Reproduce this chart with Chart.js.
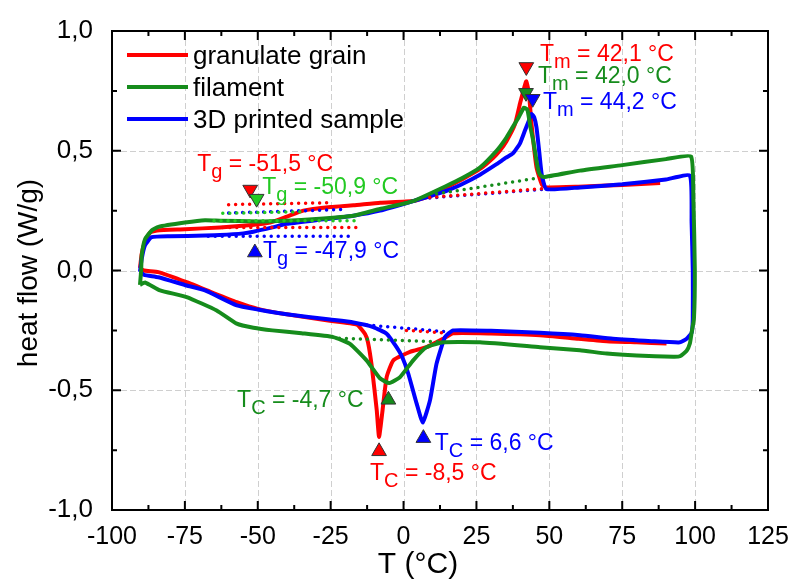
<!DOCTYPE html>
<html>
<head>
<meta charset="utf-8">
<script src="https://cdn.jsdelivr.net/npm/chart.js@4.4.1/dist/chart.umd.min.js"></script>
<style>
  html, body { margin: 0; padding: 0; background: #fff; }
  canvas { display: block; }
</style>
</head>
<body>
<canvas id="dsc" width="793" height="583"></canvas>
<script>
// DSC runs, [T (°C), heat flow (W/g)]
const granulateHeating = [
    [-90.4, 0.01], [-89.8, 0.07], [-88.7, 0.12], [-87, 0.158], [-84.5, 0.167], [-75, 0.172],
    [-63, 0.18], [-52, 0.19], [-45.8, 0.2], [-40, 0.225], [-34.4, 0.25], [-25, 0.265],
    [-17.2, 0.272], [-8, 0.283], [3.3, 0.29], [10, 0.315], [14.8, 0.347], [20, 0.38],
    [26.2, 0.424], [30.7, 0.47], [33, 0.5], [35.3, 0.54], [38.2, 0.61], [40, 0.7],
    [41.3, 0.76], [42.1, 0.79], [43, 0.74], [43.9, 0.61], [45.6, 0.43], [47.4, 0.36],
    [49, 0.347], [60, 0.35], [75, 0.357], [88, 0.365],
];
const granulateCooling = [
    [90.2, -0.305], [80, -0.3], [69.7, -0.295], [60, -0.285], [46.8, -0.27], [30, -0.263],
    [17, -0.262], [13.6, -0.285], [7.9, -0.32], [2.2, -0.34], [-3.5, -0.375], [-5.8, -0.445],
    [-7.2, -0.583], [-8.4, -0.695], [-9.2, -0.583], [-10.9, -0.4], [-12.2, -0.3], [-13.2, -0.265],
    [-16, -0.226], [-25.3, -0.21], [-40.1, -0.183], [-50, -0.16], [-57.2, -0.132], [-65, -0.095],
    [-74.4, -0.049], [-84.1, -0.007], [-89, 0.0], [-90.4, 0.01],
];
const filamentLoop = [
    [-90.4, -0.06], [-90, 0.0], [-89.8, 0.0625], [-88.7, 0.13], [-86.4, 0.167], [-84.1, 0.182],
    [-75, 0.2], [-68.1, 0.21], [-63, 0.208], [-50, 0.205], [-40.1, 0.208], [-30, 0.215],
    [-17.2, 0.229], [-8.1, 0.257], [3.3, 0.29], [14.8, 0.354], [20, 0.385], [26.2, 0.43],
    [31.9, 0.5], [35, 0.55], [37.5, 0.6], [39.5, 0.64], [41.3, 0.68], [42.5, 0.67],
    [43.5, 0.6], [44.5, 0.54], [46, 0.43], [46.8, 0.4], [48, 0.39], [60.5, 0.417],
    [75, 0.44], [90, 0.465], [98.6, 0.476], [99.4, 0.3], [99.9, 0.0], [99.6, -0.2],
    [98.8, -0.26], [98.2, -0.305], [97.1, -0.335], [94.8, -0.358], [92.5, -0.36], [80, -0.355],
    [69.7, -0.347], [60.5, -0.333], [46.8, -0.32], [26.2, -0.3], [13.6, -0.3], [7.9, -0.32],
    [3.3, -0.375], [-1.2, -0.445], [-4.9, -0.47], [-8.1, -0.45], [-12.7, -0.375], [-18.4, -0.306],
    [-24.1, -0.278], [-35, -0.262], [-45, -0.25], [-51.5, -0.239], [-57.2, -0.222], [-64.1, -0.167],
    [-74.4, -0.111], [-83.5, -0.083], [-88.7, -0.05], [-90.4, -0.06],
];
const printedLoop = [
    [-90.4, -0.005], [-89.8, 0.05], [-88.7, 0.105], [-86.4, 0.139], [-80, 0.143], [-68.1, 0.146],
    [-63, 0.148], [-55, 0.155], [-51.5, 0.162], [-45, 0.18], [-40.1, 0.195], [-30, 0.21],
    [-17.2, 0.229], [-8.1, 0.25], [3.3, 0.29], [14.8, 0.333], [20, 0.36], [26.2, 0.4],
    [31.9, 0.444], [35, 0.47], [37.6, 0.49], [39.9, 0.53], [41.5, 0.58], [42.8, 0.62],
    [43.9, 0.653], [44.8, 0.64], [45.6, 0.597], [46.5, 0.5], [47.4, 0.4], [49, 0.34],
    [60.5, 0.347], [75, 0.36], [90, 0.38], [98.2, 0.396], [98.8, 0.2], [99.2, 0.0],
    [99.2, -0.2], [98.8, -0.26], [97.1, -0.285], [94.8, -0.3], [85, -0.295], [71.8, -0.285],
    [60.5, -0.27], [46.8, -0.26], [30, -0.252], [17, -0.25], [14.2, -0.278], [11.3, -0.39],
    [9.1, -0.54], [6.6, -0.635], [4.5, -0.556], [1.6, -0.43], [-0.5, -0.36], [-2.4, -0.32],
    [-5.8, -0.264], [-10.4, -0.236], [-17.2, -0.217], [-25.2, -0.205], [-40.1, -0.183], [-50, -0.163],
    [-57.2, -0.146], [-68.1, -0.083], [-74.4, -0.0625], [-84.1, -0.028], [-89, -0.018], [-90.4, -0.005],
];

// tangent baselines (dotted), two end points each
const granulateBaselines = [
    [[-62, 0.18], [-16, 0.18]], [[-60, 0.275], [-25, 0.283]],
    [[9, 0.305], [49, 0.343]], [[1, -0.25], [15, -0.262]],
];
const filamentBaselines = [
    [[-65, 0.208], [-15, 0.208]], [[-62, 0.239], [-35, 0.245]],
    [[11.3, 0.32], [45.6, 0.385]], [[-22, -0.283], [12, -0.298]],
];
const printedBaselines = [
    [[-67, 0.143], [-17, 0.143]], [[-60, 0.24], [-20, 0.255]],
    [[9, 0.303], [49, 0.34]], [[-15, -0.225], [16, -0.257]],
];

// characteristic temperatures and where their arrow heads sit
const granulateTemps = { Tg: '-51,5', Tm: '42,1', Tc: '-8,5' };
const filamentTemps = { Tg: '-50,9', Tm: '42,0', Tc: '-4,7' };
const printedTemps = { Tg: '-47,9', Tm: '44,2', Tc: '6,6' };
const markerPoints = [
    [42.1, 0.85], [42.0, 0.742], [44.3, 0.717],
    [-52.6, 0.338], [-50.4, 0.3], [-51, 0.075],
    [-8.4, -0.755], [-5.2, -0.54], [6.8, -0.7],
];

const RED = '#ff0000';
const GREEN = '#168c1c';
const LIGHT_GREEN = '#22c922';
const BLUE = '#0000ff';
const FONT = "'Liberation Sans', Arial, sans-serif";

const pts = arr => arr.map(([x, y]) => ({ x, y }));

const dotted = (seg, color) => ({
    data: pts(seg),
    borderColor: color,
    borderWidth: 3.5,
    borderDash: [0, 7],
    borderCapStyle: 'round',
    pointRadius: 0,
    fill: false,
});

const curve = (arr, color) => ({
    data: pts(arr),
    borderColor: color,
    borderWidth: 4,
    pointRadius: 0,
    tension: 0.15,
    fill: false,
});

const markerColors = [RED, GREEN, BLUE, RED, LIGHT_GREEN, BLUE, RED, GREEN, BLUE];
const markerRotation = [180, 180, 180, 180, 180, 0, 0, 0, 0];

const datasets = [
    {
        data: pts(markerPoints),
        showLine: false,
        pointStyle: 'triangle',
        pointRadius: 8.5,
        pointRotation: markerRotation,
        pointBackgroundColor: markerColors,
        pointBorderColor: '#333',
        pointBorderWidth: 1,
    },
    ...granulateBaselines.slice(0, 2).map(s => dotted(s, RED)),
    ...filamentBaselines.slice(0, 2).map(s => dotted(s, LIGHT_GREEN)),
    ...printedBaselines.slice(0, 2).map(s => dotted(s, BLUE)),
    ...granulateBaselines.slice(2).map(s => dotted(s, RED)),
    ...filamentBaselines.slice(2).map(s => dotted(s, GREEN)),
    ...printedBaselines.slice(2).map(s => dotted(s, BLUE)),
    curve(filamentLoop, GREEN),
    curve(printedLoop, BLUE),
    curve(granulateHeating, RED),
    curve(granulateCooling, RED),
];

const legendItems = [
    ['granulate grain', RED],
    ['filament', GREEN],
    ['3D printed sample', BLUE],
];

// text anchors (left end, baseline) in data units
const labels = [
    { sub: 'm', val: granulateTemps.Tm, at: [46.8, 0.875], color: RED },
    { sub: 'm', val: filamentTemps.Tm, at: [46.1, 0.783], color: GREEN },
    { sub: 'm', val: printedTemps.Tm, at: [47.8, 0.675], color: BLUE },
    { sub: 'g', val: granulateTemps.Tg, at: [-70.8, 0.417], color: RED },
    { sub: 'g', val: filamentTemps.Tg, at: [-48.5, 0.321], color: LIGHT_GREEN },
    { sub: 'g', val: printedTemps.Tg, at: [-48.2, 0.054], color: BLUE },
    { sub: 'C', val: filamentTemps.Tc, at: [-57.1, -0.57], color: GREEN },
    { sub: 'C', val: printedTemps.Tc, at: [10.7, -0.75], color: BLUE },
    { sub: 'C', val: granulateTemps.Tc, at: [-11.5, -0.875], color: RED },
];

const decor = {
    id: 'decor',
    beforeDatasetsDraw(chart) {
        const { ctx, chartArea: a, scales: { x, y } } = chart;
        ctx.save();
        ctx.strokeStyle = '#cfcfcf';
        ctx.lineWidth = 1;
        ctx.setLineDash([6, 3]);
        for (let t = -75; t < 125; t += 25) {
            const px = Math.round(x.getPixelForValue(t)) + 0.5;
            ctx.beginPath(); ctx.moveTo(px, a.top); ctx.lineTo(px, a.bottom); ctx.stroke();
        }
        for (let v = -0.5; v < 1; v += 0.5) {
            const py = Math.round(y.getPixelForValue(v)) + 0.5;
            ctx.beginPath(); ctx.moveTo(a.left, py); ctx.lineTo(a.right, py); ctx.stroke();
        }
        ctx.restore();
    },
    afterDraw(chart) {
        const { ctx, chartArea: a, scales: { x, y } } = chart;
        ctx.save();
        // ticks, all pointing inward
        ctx.strokeStyle = '#000';
        ctx.lineWidth = 2;
        for (let t = -100; t <= 125; t += 12.5) {
            const px = x.getPixelForValue(t);
            const len = t % 25 === 0 ? 9 : 5;
            ctx.beginPath();
            ctx.moveTo(px, a.bottom); ctx.lineTo(px, a.bottom - len);
            ctx.moveTo(px, a.top); ctx.lineTo(px, a.top + len);
            ctx.stroke();
        }
        for (let v = -1; v <= 1.001; v += 0.25) {
            const py = y.getPixelForValue(v);
            const len = Math.abs(v * 2 - Math.round(v * 2)) < 1e-6 ? 9 : 5;
            ctx.beginPath();
            ctx.moveTo(a.left, py); ctx.lineTo(a.left + len, py);
            ctx.moveTo(a.right, py); ctx.lineTo(a.right - len, py);
            ctx.stroke();
        }
        ctx.strokeRect(a.left, a.top, a.right - a.left, a.bottom - a.top);

        // axis titles
        ctx.fillStyle = '#000';
        ctx.textAlign = 'center';
        ctx.textBaseline = 'middle';
        ctx.font = `30px ${FONT}`;
        ctx.fillText('T (°C)', a.left + 306, 565);
        ctx.save();
        ctx.translate(29, 273);
        ctx.rotate(-Math.PI / 2);
        ctx.font = `28px ${FONT}`;
        ctx.fillText('heat flow (W/g)', 0, 0);
        ctx.restore();

        // legend in the upper left corner
        ctx.textAlign = 'left';
        ctx.textBaseline = 'alphabetic';
        ctx.font = `26px ${FONT}`;
        legendItems.forEach(([name, color], i) => {
            const ly = a.top + 24 + i * 32;
            ctx.strokeStyle = color;
            ctx.lineWidth = 4;
            ctx.beginPath(); ctx.moveTo(a.left + 15, ly); ctx.lineTo(a.left + 76, ly); ctx.stroke();
            ctx.fillStyle = '#000';
            ctx.fillText(name, a.left + 81, ly + 9);
        });

        // T labels with subscripts
        labels.forEach(l => {
            let px = x.getPixelForValue(l.at[0]);
            const py = y.getPixelForValue(l.at[1]);
            ctx.fillStyle = l.color;
            ctx.font = `23px ${FONT}`;
            ctx.fillText('T', px, py);
            px += ctx.measureText('T').width;
            ctx.font = `20px ${FONT}`;
            ctx.fillText(l.sub, px, py + 7);
            px += ctx.measureText(l.sub).width;
            ctx.font = `23px ${FONT}`;
            ctx.fillText(` = ${l.val} °C`, px, py);
        });
        ctx.restore();
    },
};

new Chart(document.getElementById('dsc'), {
    type: 'line',
    data: { datasets },
    options: {
        responsive: false,
        animation: false,
        devicePixelRatio: 1,
        layout: { padding: { top: 31, right: 25, left: 0, bottom: 0 } },
        plugins: { legend: { display: false }, tooltip: { enabled: false } },
        scales: {
            x: {
                type: 'linear',
                min: -100,
                max: 125,
                grid: { display: false },
                border: { display: false },
                ticks: {
                    stepSize: 25,
                    color: '#000',
                    padding: 4,
                    maxRotation: 0,
                    font: { family: FONT, size: 25 },
                },
                afterFit: s => { s.height = 73; },
            },
            y: {
                min: -1,
                max: 1,
                grid: { display: false },
                border: { display: false },
                ticks: {
                    stepSize: 0.5,
                    color: '#000',
                    padding: 11,
                    font: { family: FONT, size: 26 },
                    callback: v => v.toFixed(1).replace('.', ','),
                },
                afterFit: s => { s.width = 112; },
            },
        },
    },
    plugins: [decor],
});
</script>
</body>
</html>
